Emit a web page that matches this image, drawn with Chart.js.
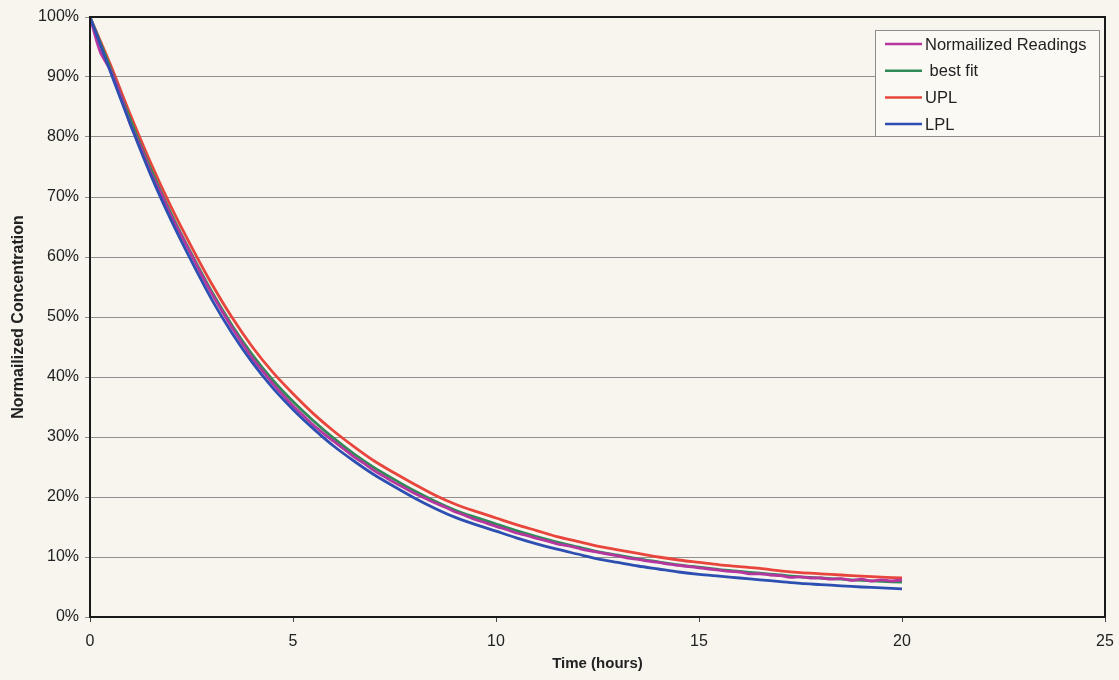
<!DOCTYPE html>
<html>
<head>
<meta charset="utf-8">
<script src="https://cdn.jsdelivr.net/npm/chart.js@4/dist/chart.umd.min.js"></script>
<style>
  html, body { margin: 0; padding: 0; background: #f8f5ef; }
  #wrap { width: 1119px; height: 680px; }
</style>
</head>
<body>
<div id="wrap"><canvas id="decayChart" width="1119" height="680"></canvas></div>
<script>
// time axis (hours)
const fitHours = [0, 0.5, 1, 1.5, 2, 2.5, 3, 3.5, 4, 4.5, 5, 5.5, 6, 6.5, 7, 7.5, 8, 8.5, 9, 9.5, 10,
  10.5, 11, 11.5, 12, 12.5, 13, 13.5, 14, 14.5, 15, 15.5, 16, 16.5, 17, 17.5, 18, 18.5, 19, 19.5, 20];
const readingHours = [0, 0.25, 0.5, 0.75, 1, 1.25, 1.5, 1.75, 2, 2.25, 2.5, 2.75, 3, 3.25, 3.5, 3.75,
  4, 4.25, 4.5, 4.75, 5, 5.25, 5.5, 5.75, 6, 6.25, 6.5, 6.75, 7, 7.25, 7.5, 7.75, 8, 8.25, 8.5, 8.75,
  9, 9.25, 9.5, 9.75, 10, 10.25, 10.5, 10.75, 11, 11.25, 11.5, 11.75, 12, 12.25, 12.5, 12.75, 13, 13.25,
  13.5, 13.75, 14, 14.25, 14.5, 14.75, 15, 15.25, 15.5, 15.75, 16, 16.25, 16.5, 16.75, 17, 17.25, 17.5,
  17.75, 18, 18.25, 18.5, 18.75, 19, 19.25, 19.5, 19.75, 20];

// values in %
const readings = [100, 94.2, 91.2, 87.0, 82.0, 78.3, 74.0, 70.6, 66.8, 63.6, 60.3, 57.0, 53.9, 51.0, 48.2, 45.6,
  43.1, 41.0, 38.9, 37.0, 35.2, 33.6, 32.0, 30.6, 29.3, 28.0, 26.7, 25.6, 24.4, 23.4, 22.4, 21.5, 20.6, 19.8,
  19.0, 18.3, 17.5, 16.9, 16.2, 15.7, 15.1, 14.6, 14.0, 13.6, 13.1, 12.7, 12.2, 11.9, 11.5, 11.1, 10.8, 10.5,
  10.2, 9.8, 9.6, 9.3, 9.1, 8.8, 8.6, 8.4, 8.2, 8.0, 7.8, 7.6, 7.5, 7.2, 7.2, 7.0, 6.9, 6.6, 6.7, 6.5, 6.5,
  6.3, 6.4, 6.1, 6.3, 6.0, 6.2, 6.0, 6.2];
const bestFit = [100, 91.5, 82.8, 74.6, 67.2, 60.5, 54.2, 48.6, 43.7, 39.5, 35.9, 32.7, 29.8, 27.2, 24.9, 22.9,
  21.0, 19.3, 17.8, 16.6, 15.5, 14.4, 13.4, 12.5, 11.7, 10.9, 10.3, 9.7, 9.2, 8.7, 8.3, 7.9, 7.6, 7.3, 7.0,
  6.7, 6.5, 6.3, 6.1, 5.95, 5.8];
const upl = [100, 92.1, 83.6, 75.6, 68.3, 61.7, 55.5, 49.9, 45.0, 40.8, 37.2, 33.9, 31.0, 28.4, 26.0, 24.0,
  22.1, 20.3, 18.8, 17.6, 16.5, 15.4, 14.4, 13.4, 12.6, 11.8, 11.2, 10.6, 10.0, 9.5, 9.1, 8.7, 8.4, 8.1, 7.7,
  7.4, 7.2, 7.0, 6.8, 6.65, 6.5];
const lpl = [100, 90.9, 82.0, 73.6, 66.1, 59.3, 52.9, 47.3, 42.4, 38.2, 34.6, 31.4, 28.5, 26.0, 23.7, 21.7,
  19.8, 18.1, 16.6, 15.4, 14.3, 13.2, 12.2, 11.3, 10.5, 9.7, 9.1, 8.5, 8.0, 7.5, 7.1, 6.8, 6.5, 6.2, 5.9,
  5.6, 5.4, 5.2, 5.0, 4.85, 4.7];

const seriesNames = ['Normailized Readings', ' best fit', 'UPL', 'LPL'];
const seriesColors = ['#b5369f', '#2f8a58', '#e8453c', '#2d4fb2'];

const pts = (xs, ys) => xs.map((x, i) => ({ x: x, y: ys[i] }));

const FONT = '"Liberation Sans", Arial, sans-serif';

// legend box drawn inside the plot, like the original
const boxLegend = {
  id: 'boxLegend',
  afterDraw(chart) {
    const c = chart.ctx;
    const x0 = 875, y0 = 30, w = 224, h = 106;
    c.save();
    c.fillStyle = '#fbf9f4';
    c.fillRect(x0, y0, w, h);
    c.strokeStyle = '#8c8c8c';
    c.lineWidth = 1;
    c.strokeRect(x0 + 0.5, y0 + 0.5, w, h);
    c.font = '16.5px ' + FONT;
    c.textBaseline = 'middle';
    chart.data.datasets.forEach((ds, i) => {
      const y = y0 + 14 + i * 26.7;
      c.strokeStyle = ds.borderColor;
      c.lineWidth = 2.5;
      c.beginPath();
      c.moveTo(x0 + 10, y);
      c.lineTo(x0 + 47, y);
      c.stroke();
      c.fillStyle = '#222';
      c.fillText(ds.label, x0 + 50, y + 1);
    });
    c.restore();
  }
};

// page colour + frame round the plot
const frame = {
  id: 'frame',
  beforeDraw(chart) {
    const c = chart.ctx;
    c.save();
    c.fillStyle = '#f8f5ef';
    c.fillRect(0, 0, chart.width, chart.height);
    c.restore();
  },
  afterDatasetsDraw(chart) {
    const a = chart.chartArea;
    const c = chart.ctx;
    c.save();
    c.strokeStyle = '#1a1a1a';
    c.lineWidth = 2;
    c.strokeRect(a.left, a.top, a.right - a.left, a.bottom - a.top);
    c.restore();
  }
};

new Chart(document.getElementById('decayChart'), {
  type: 'line',
  data: {
    datasets: [
      { label: seriesNames[0], data: pts(readingHours, readings), borderColor: seriesColors[0], order: 1 },
      { label: seriesNames[1], data: pts(fitHours, bestFit), borderColor: seriesColors[1], order: 2 },
      { label: seriesNames[2], data: pts(fitHours, upl), borderColor: seriesColors[2], order: 3 },
      { label: seriesNames[3], data: pts(fitHours, lpl), borderColor: seriesColors[3], order: 0 }
    ]
  },
  options: {
    responsive: false,
    animation: false,
    layout: { padding: { left: 0, top: 17, right: 14, bottom: 0 } },
    elements: {
      point: { radius: 0 },
      line: { borderWidth: 2.8, tension: 0.3, fill: false }
    },
    plugins: {
      legend: { display: false },
      tooltip: { enabled: false }
    },
    scales: {
      x: {
        type: 'linear',
        min: 0,
        max: 25,
        afterFit: s => { s.height = 63; s.paddingRight = 0; s.paddingLeft = 0; },
        ticks: { stepSize: 5, color: '#222', font: { family: FONT, size: 16 }, padding: 10 },
        grid: { drawOnChartArea: false, color: '#444', tickLength: 5 },
        border: { color: '#1a1a1a', width: 2 },
        title: {
          display: true,
          text: 'Time (hours)',
          color: '#222',
          font: { family: FONT, size: 15, weight: 'bold' },
          padding: { top: 0, bottom: 7 }
        }
      },
      y: {
        min: 0,
        max: 100,
        afterFit: s => { s.width = 90; s.paddingTop = 0; s.paddingBottom = 0; },
        ticks: {
          stepSize: 10,
          color: '#222',
          font: { family: FONT, size: 16 },
          padding: 6,
          callback: v => v + '%'
        },
        grid: { color: '#8f8f8f', lineWidth: 1, tickLength: 5 },
        border: { color: '#1a1a1a', width: 2 },
        title: {
          display: true,
          text: 'Normailized Concentration',
          color: '#222',
          font: { family: FONT, size: 16, weight: 'bold' },
          padding: { top: 9, bottom: 0 }
        }
      }
    }
  },
  plugins: [frame, boxLegend]
});
</script>
</body>
</html>
